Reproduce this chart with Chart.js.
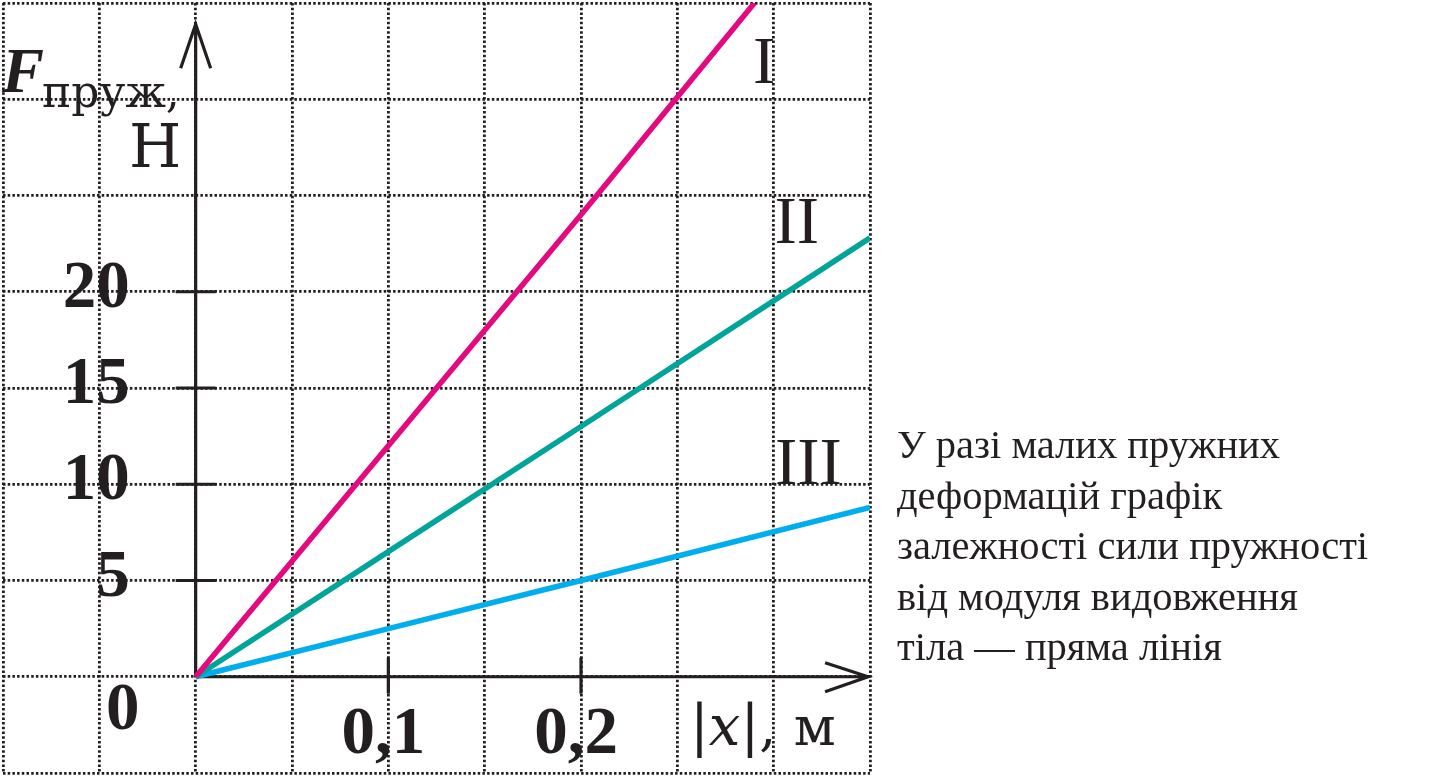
<!DOCTYPE html>
<html lang="uk">
<head>
<meta charset="utf-8">
<title>Графік залежності сили пружності</title>
<script src="https://cdn.jsdelivr.net/npm/chart.js@4.4.1/dist/chart.umd.min.js"></script>
<style>
  html, body { margin: 0; padding: 0; background: #fff; }
  #wrap { position: relative; width: 1441px; height: 779px; overflow: hidden; }
  #chart { position: absolute; left: 0; top: 0; }
  #note {
    position: absolute; left: 897px; top: 420px;
    font: 40.5px/50.5px "Liberation Serif", "Times New Roman", serif;
    color: #231f20; white-space: nowrap;
  }
</style>
</head>
<body>
<div id="wrap">
  <canvas id="chart" width="1441" height="779"></canvas>
  <div id="note">У разі малих пружних<br>деформацій графік<br>залежності сили пружності<br>від модуля видовження<br>тіла — пряма лінія</div>
</div>
<script>
// values: |x| in m, F in N
const seriesNames = ['I', 'II', 'III'];
const extI = [0, 0.1, 0.2, 0.29];
const forceI = [0, 12, 24, 35];
const extII = [0, 0.1, 0.2, 0.35];
const forceII = [0, 6.5, 13, 22.8];
const extIII = [0, 0.1, 0.2, 0.35];
const forceIII = [0, 2.5, 5, 8.8];

// labelled ticks on the axes
const forceTicks = [5, 10, 15, 20];
const extTicks = [0.1, 0.2];

// dotted squared paper
const gridExt = [-0.1, -0.05, 0, 0.05, 0.1, 0.15, 0.2, 0.25, 0.3, 0.35];
const gridForce = [-5, 0, 5, 10, 15, 20, 25, 30, 35];

const INK = '#231f20';
const COLORS = ['#e5097f', '#00a499', '#00aeef'];
const SERIF = '"Liberation Serif", "Times New Roman", serif';
const WIDE = '"DejaVu Serif", serif';

const fmtTick = (v) => String(v).replace('.', ',');
const toPts = (xs, ys) => xs.map((x, i) => ({ x, y: ys[i] }));

// where the roman numerals sit (data coords, centre / baseline)
const NAME_POS = [{ x: 0.295, y: 30.85 }, { x: 0.312, y: 22.55 }, { x: 0.318, y: 10.0 }];

const axesPlugin = {
  id: 'axes',
  beforeDatasetsDraw(chart) {
    const { ctx, scales: { x, y } } = chart;
    const ox = x.getPixelForValue(0), oy = y.getPixelForValue(0);
    const tipX = x.getPixelForValue(0.349), tipY = y.getPixelForValue(33.9);
    ctx.save();
    ctx.strokeStyle = INK;
    ctx.lineWidth = 3.2;
    ctx.beginPath();
    ctx.moveTo(ox, oy); ctx.lineTo(ox, tipY);
    ctx.moveTo(ox, oy); ctx.lineTo(tipX, oy);
    // arrow heads
    ctx.moveTo(ox - 15, tipY + 44); ctx.lineTo(ox, tipY); ctx.lineTo(ox + 15, tipY + 44);
    ctx.moveTo(tipX - 43, oy - 14); ctx.lineTo(tipX, oy); ctx.lineTo(tipX - 43, oy + 15);
    // tick marks
    forceTicks.forEach(v => {
      const py = y.getPixelForValue(v);
      ctx.moveTo(ox - 20, py); ctx.lineTo(ox + 20, py);
    });
    extTicks.forEach(v => {
      const px = x.getPixelForValue(v);
      ctx.moveTo(px, oy - 19); ctx.lineTo(px, oy + 17);
    });
    ctx.stroke();
    ctx.restore();
  },
  afterDatasetsDraw(chart) {
    const { ctx, scales: { x, y } } = chart;
    const ox = x.getPixelForValue(0), oy = y.getPixelForValue(0);
    ctx.save();
    ctx.fillStyle = INK;
    ctx.textBaseline = 'alphabetic';

    ctx.font = `bold 67px ${SERIF}`;
    ctx.textAlign = 'right';
    forceTicks.forEach(v => ctx.fillText(fmtTick(v), ox - 66, y.getPixelForValue(v) + 15));
    ctx.textAlign = 'center';
    ctx.fillText('0', ox - 73, oy + 52);
    extTicks.forEach(v => ctx.fillText(fmtTick(v), x.getPixelForValue(v) - 5, oy + 76));

    // y title: F пруж, Н
    ctx.textAlign = 'left';
    ctx.font = `italic bold 63px ${SERIF}`;
    ctx.fillText('F', 2, 92);
    ctx.font = `44px ${WIDE}`;
    ctx.fillText('пруж,', 42, 107);
    ctx.font = `60px ${WIDE}`;
    ctx.fillText('Н', 129, 167);

    // x title: |x|, м
    let cx = 690;
    const bx = oy + 68;
    const put = (txt, font) => { ctx.font = font; ctx.fillText(txt, cx, bx); cx += ctx.measureText(txt).width; };
    put('|', `56px ${WIDE}`);
    put('x', `italic 56px ${WIDE}`);
    put('|', `56px ${WIDE}`);
    put(', м', `54px ${WIDE}`);

    // series names
    ctx.textAlign = 'center';
    ctx.font = `67px ${SERIF}`;
    seriesNames.forEach((n, i) => ctx.fillText(n, x.getPixelForValue(NAME_POS[i].x), y.getPixelForValue(NAME_POS[i].y)));
    ctx.restore();
  }
};

const gridScale = (min, max, values) => ({
  type: 'linear',
  min, max,
  afterBuildTicks: (s) => { s.ticks = values.map(value => ({ value })); },
  ticks: { display: false },
  grid: { color: INK, lineWidth: 2.8, drawTicks: false },
  border: { display: false, dash: [2.5, 2.2] }
});

const ctx = document.getElementById('chart').getContext('2d');
new Chart(ctx, {
  type: 'scatter',
  data: {
    datasets: [
      { label: seriesNames[0], data: toPts(extI, forceI), borderColor: COLORS[0] },
      { label: seriesNames[1], data: toPts(extII, forceII), borderColor: COLORS[1] },
      { label: seriesNames[2], data: toPts(extIII, forceIII), borderColor: COLORS[2] }
    ].map(d => ({ ...d, showLine: true, borderWidth: 5.5, pointRadius: 0, tension: 0, borderCapStyle: 'butt' }))
  },
  options: {
    responsive: false,
    animation: false,
    devicePixelRatio: 1,
    layout: { padding: { left: 3, top: 3, right: 571, bottom: 6 } },
    plugins: { legend: { display: false }, tooltip: { enabled: false } },
    scales: {
      x: gridScale(-0.1, 0.35, gridExt),
      y: gridScale(-5, 35, gridForce)
    }
  },
  plugins: [axesPlugin]
});
</script>
</body>
</html>
